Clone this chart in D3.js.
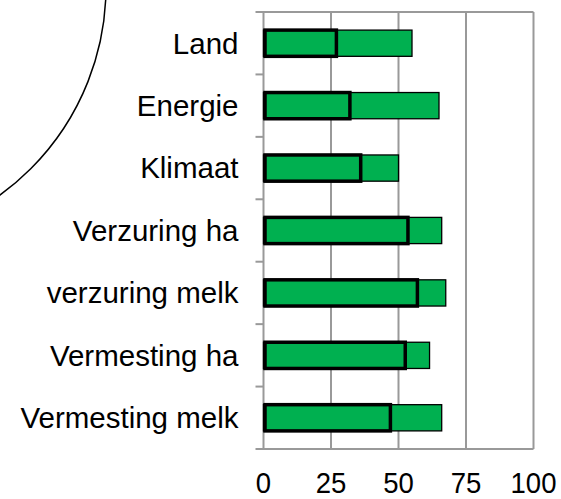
<!DOCTYPE html>
<html lang="nl">
<head>
    <meta charset="UTF-8">
    <title>Milieuscores</title>
    <script src="https://d3js.org/d3.v7.min.js"></script>
    <style>
        body {
            margin: 0;
            font-family: "Liberation Sans", Arial, sans-serif;
            background: #fff;
        }
        svg { display: block; }
        .grid line { stroke: #999; stroke-width: 2; }
        .label { font-size: 29.5px; fill: #000; }
        .tick-label { font-size: 29px; fill: #000; }
    </style>
</head>
<body>
    <svg id="chart" width="561" height="499"></svg>

    <script>
        const width = 561, height = 499;
        const margin = { top: 12, right: 27.5, bottom: 50, left: 263.5 };

        // Categories (top to bottom)
        const categories = ["Land", "Energie", "Klimaat", "Verzuring ha",
            "verzuring melk", "Vermesting ha", "Vermesting melk"];
        // Outer (thin outline) bar values
        const totalValues = [55, 65, 50, 66, 67.5, 61.5, 66];
        // Inner (thick outline) bar values
        const innerValues = [27, 32, 36, 53.5, 57, 52.5, 47];
        // x-axis ticks
        const xTicks = [0, 25, 50, 75, 100];

        const svg = d3.select("#chart");

        const x = d3.scaleLinear()
            .domain([0, 100])
            .range([margin.left, width - margin.right]);

        const y = d3.scaleBand()
            .domain(categories)
            .range([margin.top, height - margin.bottom])
            .paddingInner(0.58)
            .paddingOuter(0.29);

        // Decorative arc in top-left corner
        svg.append("circle")
            .attr("cx", -151)
            .attr("cy", -13)
            .attr("r", 257)
            .attr("fill", "none")
            .attr("stroke", "#000")
            .attr("stroke-width", 1.5);

        // Gridlines and frame
        const grid = svg.append("g").attr("class", "grid");
        grid.selectAll(".vline")
            .data(xTicks)
            .join("line")
            .attr("x1", d => x(d))
            .attr("x2", d => x(d))
            .attr("y1", margin.top)
            .attr("y2", height - margin.bottom);

        // Category tick marks (band boundaries), including top and bottom frame lines
        const step = y.step();
        const boundaries = d3.range(categories.length + 1).map(i => margin.top + i * step);
        grid.selectAll(".hline")
            .data(boundaries)
            .join("line")
            .attr("x1", margin.left - 8)
            .attr("x2", (d, i) => (i === 0 || i === categories.length) ? x(100) : x(0))
            .attr("y1", d => d)
            .attr("y2", d => d);

        // Outer bars
        svg.selectAll(".bar-total")
            .data(categories)
            .join("rect")
            .attr("class", "bar-total")
            .attr("x", x(0))
            .attr("y", d => y(d))
            .attr("width", (d, i) => x(totalValues[i]) - x(0))
            .attr("height", y.bandwidth())
            .attr("fill", "#00b050")
            .attr("stroke", "#000")
            .attr("stroke-width", 1.3);

        // Inner bars
        svg.selectAll(".bar-inner")
            .data(categories)
            .join("rect")
            .attr("class", "bar-inner")
            .attr("x", x(0) + 1.5)
            .attr("y", d => y(d))
            .attr("width", (d, i) => x(innerValues[i]) - x(0) - 1.5)
            .attr("height", y.bandwidth())
            .attr("fill", "#00b050")
            .attr("stroke", "#000")
            .attr("stroke-width", 3.5);

        // Category labels
        svg.selectAll(".label")
            .data(categories)
            .join("text")
            .attr("class", "label")
            .attr("x", margin.left - 25)
            .attr("y", d => y(d) + y.bandwidth() / 2)
            .attr("dy", "0.35em")
            .attr("text-anchor", "end")
            .text(d => d);

        // x tick labels (slightly condensed, as in the original)
        svg.selectAll(".tick-label")
            .data(xTicks)
            .join("text")
            .attr("class", "tick-label")
            .attr("transform", d => `translate(${x(d)},${height - 6}) scale(0.95,1)`)
            .attr("text-anchor", "middle")
            .text(d => d);
    </script>
</body>
</html>
